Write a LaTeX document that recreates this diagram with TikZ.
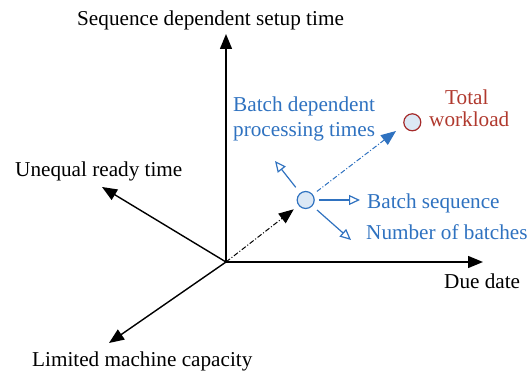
\documentclass[tikz,border=0pt]{standalone}
\usepackage{fontspec}
\setmainfont{Liberation Serif}
\usetikzlibrary{arrows.meta,calc}
\definecolor{bblue}{HTML}{2F72C0}
\definecolor{cfill}{HTML}{DCE8F5}
\definecolor{dred}{HTML}{A52A2A}
\definecolor{tred}{HTML}{B0392E}
\begin{document}
\begin{tikzpicture}[x=1pt,y=-1pt,
  lbl/.style={anchor=base west,inner sep=0pt,font=\fontsize{21.2}{25}\selectfont},
  axis/.style={line width=1.4pt,-{Triangle[length=15pt,width=12pt]}},
  bluearr/.style={bblue,line width=1.2pt,-{Triangle[open,length=11pt,width=10pt]}},
  dd/.style={dash pattern=on 5pt off 2pt on 1pt off 2pt},
  dot/.style={circle,draw,line width=1.2pt,fill=cfill,inner sep=0pt,minimum size=17pt}]
\useasboundingbox (0,0) rectangle (530,374);
\coordinate (O) at (226,262);
\coordinate (up) at (226,34);
\coordinate (right) at (483,262);
\coordinate (ul) at (102,187);
\coordinate (dl) at (109,343);
\node[dot,draw=bblue] (c1) at (305.7,200) {};
\node[dot,draw=dred] (c2) at (412.3,122.3) {};
\coordinate (t1) at (275,161);
\coordinate (t2) at (360,200);
\coordinate (t3) at (351,240);
\coordinate (t4) at (396,131);
\draw[axis] (O) -- (up);
\draw[axis] (O) -- (right);
\draw[axis] (O) -- (ul);
\draw[axis] (O) -- (dl);
\draw[line width=1pt,dd,-{Triangle[length=15pt,width=12pt]},shorten >=6pt] (O) -- (c1);
\draw[bblue,line width=1pt,dd,-{Triangle[length=15pt,width=12pt]},shorten <=5pt] (c1) -- (t4);
\draw[bluearr,shorten <=7pt] (c1) -- (t1);
\draw[bluearr,shorten <=4pt] (c1) -- (t2);
\draw[bluearr,shorten <=6pt] (c1) -- (t3);
\node[lbl] (l1) at (77,26) {Sequence dependent setup time};
\node[lbl] (l2) at (15,177) {Unequal ready time};
\node[lbl] (l3) at (32,366.5) {Limited machine capacity};
\node[lbl] (l4) at (444,288) {Due date};
\node[lbl,bblue] (l5) at (233,112) {Batch dependent};
\node[lbl,bblue] (l6) at (233,137) {processing times};
\node[lbl,bblue] (l7) at (367,209) {Batch sequence};
\node[lbl,bblue] (l8) at (366,240) {Number of batches};
\node[lbl,tred] (l9) at (445,105) {Total};
\node[lbl,tred] (l10) at (429,127) {workload};
\end{tikzpicture}
\end{document}
